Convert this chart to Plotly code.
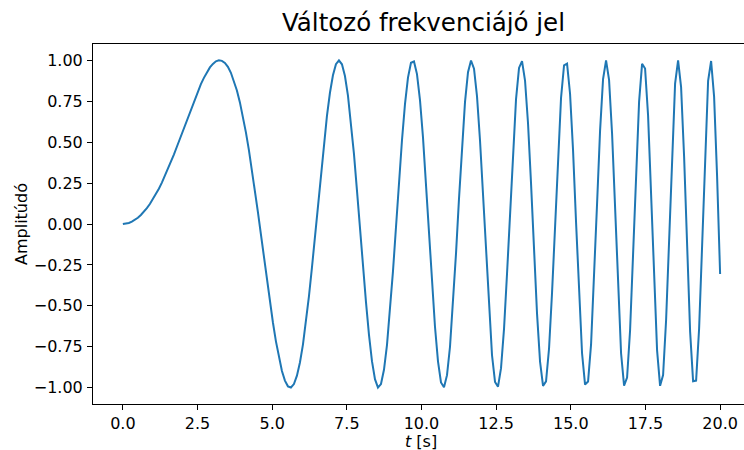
import numpy as np
import plotly.graph_objects as go

# Sample times (s): 200 evenly spaced samples from 0 to 20 s
t_start, t_stop, n_samples = 0.0, 20.0, 200
t = np.linspace(t_start, t_stop, n_samples)

# Signal amplitude at each sample
amplitude = [
    0.000, 0.002, 0.006, 0.014, 0.024, 0.038, 0.055, 0.074, 0.097, 0.122,
    0.151, 0.182, 0.216, 0.253, 0.293, 0.334, 0.378, 0.424, 0.472, 0.520,
    0.570, 0.620, 0.669, 0.718, 0.766, 0.812, 0.855, 0.893, 0.928, 0.957,
    0.978, 0.994, 1.000, 0.997, 0.984, 0.960, 0.924, 0.876, 0.816, 0.743,
    0.658, 0.560, 0.452, 0.334, 0.207, 0.073, -0.064, -0.204, -0.342, -0.476,
    -0.602, -0.717, -0.817, -0.898, -0.957, -0.992, -0.999, -0.978, -0.927, -0.846,
    -0.737, -0.602, -0.443, -0.266, -0.077, 0.118, 0.311, 0.495, 0.661, 0.802,
    0.909, 0.977, 1.000, 0.976, 0.904, 0.785, 0.624, 0.428, 0.205, -0.031,
    -0.269, -0.476, -0.676, -0.838, -0.948, -0.999, -0.978, -0.891, -0.740, -0.536,
    -0.290, -0.020, 0.255, 0.512, 0.732, 0.895, 0.985, 0.993, 0.916, 0.757,
    0.529, 0.250, -0.055, -0.358, -0.628, -0.839, -0.968, -0.998, -0.924, -0.750,
    -0.494, -0.181, 0.155, 0.477, 0.745, 0.928, 0.999, 0.949, 0.780, 0.510,
    0.173, -0.191, -0.531, -0.802, -0.965, -0.994, -0.881, -0.641, -0.304, 0.080,
    0.455, 0.763, 0.954, 0.995, 0.877, 0.614, 0.248, -0.162, -0.548, -0.841,
    -0.989, -0.962, -0.761, -0.420, 0.002, 0.426, 0.771, 0.970, 0.980, 0.796,
    0.450, 0.011, -0.433, -0.790, -0.981, -0.963, -0.736, -0.346, 0.124, 0.569,
    0.886, 1.000, 0.881, 0.553, 0.090, -0.397, -0.790, -0.988, -0.939, -0.651,
    -0.194, 0.316, 0.746, 0.979, 0.950, 0.662, 0.190, -0.337, -0.772, -0.989,
    -0.923, -0.588, -0.078, 0.457, 0.858, 1.000, 0.836, 0.412, -0.143, -0.656,
    -0.961, -0.957, -0.640, -0.111, 0.457, 0.875, 0.996, 0.777, 0.288, -0.305,
]

x_ticks = [0.0, 2.5, 5.0, 7.5, 10.0, 12.5, 15.0, 17.5, 20.0]
y_ticks = [-1.00, -0.75, -0.50, -0.25, 0.00, 0.25, 0.50, 0.75, 1.00]

title_text = "Változó frekvenciájó jel"
x_label = "<i>t</i> [s]"
y_label = "Amplitúdó"

FONT = "DejaVu Sans"
TICK_SIZE = 16

fig = go.Figure()
fig.add_trace(go.Scatter(
    x=t, y=amplitude, mode="lines",
    line=dict(color="#1f77b4", width=2),
    showlegend=False,
))

axis_common = dict(
    showgrid=False, zeroline=False,
    showline=True, linecolor="black", linewidth=1,
    ticks="outside", ticklen=5, tickwidth=1, tickcolor="black",
    tickfont=dict(family=FONT, size=TICK_SIZE, color="black"),
)

fig.update_xaxes(
    range=[-1.0, 20.8], tickvals=x_ticks,
    ticktext=[f"{v:.1f}" for v in x_ticks],
    mirror=True, ticklabelstandoff=0,
    **axis_common,
)
fig.update_yaxes(
    range=[-1.1, 1.1], tickvals=y_ticks,
    ticktext=[f"{v:.2f}".replace("-", "\u2212") for v in y_ticks],
    ticklabelstandoff=1,
    **axis_common,
)

fig.update_layout(
    width=744, height=450,
    margin=dict(l=93, r=0, t=44, b=46),
    paper_bgcolor="white", plot_bgcolor="white",
    font=dict(family=FONT, color="black"),
    title=dict(
        text=title_text, font=dict(family=FONT, size=24.5, color="black"),
        xref="container", x=423.5 / 744, xanchor="center",
        yref="container", y=1 - 22 / 450, yanchor="middle",
    ),
    annotations=[
        dict(text=x_label, xref="paper", yref="paper",
             x=(421 - 93) / 651, y=-(441 - 404) / 360,
             xanchor="center", yanchor="middle", showarrow=False,
             font=dict(family=FONT, size=TICK_SIZE, color="black")),
        dict(text=y_label, xref="paper", yref="paper",
             x=(21 - 93) / 651, y=0.5, textangle=-90,
             xanchor="center", yanchor="middle", showarrow=False,
             font=dict(family=FONT, size=TICK_SIZE, color="black")),
    ],
)

fig.write_html("out.html")
